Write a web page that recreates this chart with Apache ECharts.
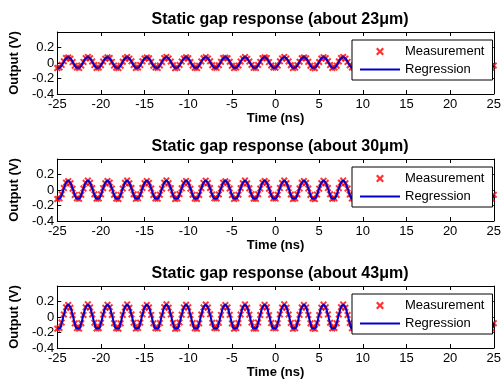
<!DOCTYPE html>
<html>
<head>
<meta charset="utf-8">
<script src="https://cdn.jsdelivr.net/npm/echarts@6/dist/echarts.min.js"></script>
<style>
  html, body { margin: 0; padding: 0; background: #fff; }
  #chart { width: 504px; height: 384px; }
</style>
</head>
<body>
<div id="chart"></div>
<script>
// sample times (ns)
const tiempos = [
  -25,-24.75,-24.5,-24.25,-24,-23.75,-23.5,-23.25,
  -23,-22.75,-22.5,-22.25,-22,-21.75,-21.5,-21.25,
  -21,-20.75,-20.5,-20.25,-20,-19.75,-19.5,-19.25,
  -19,-18.75,-18.5,-18.25,-18,-17.75,-17.5,-17.25,
  -17,-16.75,-16.5,-16.25,-16,-15.75,-15.5,-15.25,
  -15,-14.75,-14.5,-14.25,-14,-13.75,-13.5,-13.25,
  -13,-12.75,-12.5,-12.25,-12,-11.75,-11.5,-11.25,
  -11,-10.75,-10.5,-10.25,-10,-9.75,-9.5,-9.25,
  -9,-8.75,-8.5,-8.25,-8,-7.75,-7.5,-7.25,
  -7,-6.75,-6.5,-6.25,-6,-5.75,-5.5,-5.25,
  -5,-4.75,-4.5,-4.25,-4,-3.75,-3.5,-3.25,
  -3,-2.75,-2.5,-2.25,-2,-1.75,-1.5,-1.25,
  -1,-0.75,-0.5,-0.25,0,0.25,0.5,0.75,
  1,1.25,1.5,1.75,2,2.25,2.5,2.75,
  3,3.25,3.5,3.75,4,4.25,4.5,4.75,
  5,5.25,5.5,5.75,6,6.25,6.5,6.75,
  7,7.25,7.5,7.75,8,8.25,8.5,8.75,
  9,9.25,9.5,9.75,10,10.25,10.5,10.75,
  11,11.25,11.5,11.75,12,12.25,12.5,12.75,
  13,13.25,13.5,13.75,14,14.25,14.5,14.75,
  15,15.25,15.5,15.75,16,16.25,16.5,16.75,
  17,17.25,17.5,17.75,18,18.25,18.5,18.75,
  19,19.25,19.5,19.75,20,20.25,20.5,20.75,
  21,21.25,21.5,21.75,22,22.25,22.5,22.75,
  23,23.25,23.5,23.75,24,24.25,24.5,24.75,
  25
];

// panel 1 (about 23um)
const medida23 = [
  -0.066,-0.058,-0.024,0.021,0.063,0.071,0.055,0.012,-0.035,
  -0.058,-0.064,-0.033,0.014,0.062,0.079,0.061,0.020,-0.027,
  -0.063,-0.059,-0.028,0.019,0.055,0.073,0.063,0.014,-0.033,
  -0.060,-0.066,-0.035,0.016,0.061,0.077,0.056,0.021,-0.026,
  -0.064,-0.057,-0.027,0.022,0.057,0.072,0.060,0.015,-0.034,
  -0.059,-0.063,-0.031,0.013,0.064,0.078,0.057,0.019,-0.029,
  -0.067,-0.060,-0.025,0.018,0.058,0.074,0.062,0.013,-0.032,
  -0.061,-0.065,-0.034,0.020,0.060,0.076,0.058,0.022,-0.028,
  -0.057,-0.062,-0.029,0.015,0.063,0.070,0.061,0.016,-0.036,
  -0.065,-0.058,-0.032,0.019,0.056,0.077,0.055,0.018,-0.025,
  -0.062,-0.064,-0.026,0.014,0.062,0.073,0.063,0.012,-0.031,
  -0.058,-0.061,-0.033,0.021,0.059,0.079,0.057,0.020,-0.029,
  -0.066,-0.059,-0.028,0.016,0.061,0.072,0.060,0.015,-0.034,
  -0.060,-0.067,-0.030,0.013,0.057,0.075,0.062,0.021,-0.027,
  -0.063,-0.057,-0.035,0.020,0.064,0.078,0.056,0.014,-0.030,
  -0.059,-0.062,-0.027,0.017,0.058,0.071,0.059,0.019,-0.033,
  -0.064,-0.060,-0.031,0.022,0.060,0.076,0.061,0.013,-0.028,
  -0.061,-0.065,-0.029,0.015,0.063,0.074,0.058,0.018,-0.032,
  -0.057,-0.059,-0.034,0.018,0.056,0.077,0.062,0.016,-0.026,
  -0.065,-0.063,-0.026,0.014,0.062,0.073,0.055,0.020,-0.035,
  -0.062,-0.058,-0.032,0.021,0.059,0.079,0.060,0.012,-0.029,
  -0.060,-0.066,-0.028,0.016,0.061,0.072,0.063,0.019,-0.031,
  -0.063,-0.059,-0.033
];
const ajuste23 = [
  -0.061,-0.061,-0.030,0.017,0.059,0.075,0.059,0.017,-0.030,
  -0.061,-0.061,-0.030,0.017,0.059,0.075,0.059,0.017,-0.030,
  -0.061,-0.061,-0.030,0.017,0.059,0.075,0.059,0.017,-0.030,
  -0.061,-0.061,-0.030,0.017,0.059,0.075,0.059,0.017,-0.030,
  -0.061,-0.061,-0.030,0.017,0.059,0.075,0.059,0.017,-0.030,
  -0.061,-0.061,-0.030,0.017,0.059,0.075,0.059,0.017,-0.030,
  -0.061,-0.061,-0.030,0.017,0.059,0.075,0.059,0.017,-0.030,
  -0.061,-0.061,-0.030,0.017,0.059,0.075,0.059,0.017,-0.030,
  -0.061,-0.061,-0.030,0.017,0.059,0.075,0.059,0.017,-0.030,
  -0.061,-0.061,-0.030,0.017,0.059,0.075,0.059,0.017,-0.030,
  -0.061,-0.061,-0.030,0.017,0.059,0.075,0.059,0.017,-0.030,
  -0.061,-0.061,-0.030,0.017,0.059,0.075,0.059,0.017,-0.030,
  -0.061,-0.061,-0.030,0.017,0.059,0.075,0.059,0.017,-0.030,
  -0.061,-0.061,-0.030,0.017,0.059,0.075,0.059,0.017,-0.030,
  -0.061,-0.061,-0.030,0.017,0.059,0.075,0.059,0.017,-0.030,
  -0.061,-0.061,-0.030,0.017,0.059,0.075,0.059,0.017,-0.030,
  -0.061,-0.061,-0.030,0.017,0.059,0.075,0.059,0.017,-0.030,
  -0.061,-0.061,-0.030,0.017,0.059,0.075,0.059,0.017,-0.030,
  -0.061,-0.061,-0.030,0.017,0.059,0.075,0.059,0.017,-0.030,
  -0.061,-0.061,-0.030,0.017,0.059,0.075,0.059,0.017,-0.030,
  -0.061,-0.061,-0.030,0.017,0.059,0.075,0.059,0.017,-0.030,
  -0.061,-0.061,-0.030,0.017,0.059,0.075,0.059,0.017,-0.030,
  -0.061,-0.061,-0.030
];

// panel 2 (about 30um)
const medida30 = [
  -0.116,-0.107,-0.054,0.025,0.094,0.114,0.086,0.016,-0.064,
  -0.108,-0.114,-0.062,0.018,0.093,0.122,0.092,0.024,-0.056,
  -0.113,-0.109,-0.056,0.023,0.086,0.116,0.094,0.018,-0.062,
  -0.110,-0.116,-0.064,0.019,0.092,0.121,0.087,0.025,-0.055,
  -0.114,-0.106,-0.055,0.026,0.088,0.115,0.091,0.019,-0.063,
  -0.109,-0.112,-0.060,0.017,0.095,0.123,0.088,0.023,-0.058,
  -0.117,-0.110,-0.053,0.022,0.089,0.117,0.093,0.017,-0.061,
  -0.111,-0.115,-0.063,0.024,0.091,0.120,0.089,0.026,-0.057,
  -0.107,-0.111,-0.057,0.019,0.094,0.113,0.092,0.020,-0.065,
  -0.115,-0.108,-0.061,0.023,0.087,0.121,0.086,0.022,-0.054,
  -0.112,-0.114,-0.054,0.018,0.093,0.116,0.094,0.016,-0.060,
  -0.108,-0.110,-0.062,0.025,0.090,0.122,0.088,0.024,-0.058,
  -0.116,-0.109,-0.056,0.020,0.092,0.115,0.091,0.019,-0.063,
  -0.110,-0.117,-0.059,0.017,0.088,0.119,0.093,0.025,-0.056,
  -0.113,-0.107,-0.064,0.024,0.095,0.121,0.087,0.018,-0.059,
  -0.109,-0.112,-0.055,0.021,0.089,0.114,0.090,0.023,-0.062,
  -0.114,-0.110,-0.060,0.026,0.091,0.120,0.092,0.017,-0.057,
  -0.111,-0.115,-0.057,0.019,0.094,0.117,0.089,0.022,-0.061,
  -0.107,-0.109,-0.063,0.022,0.087,0.121,0.093,0.020,-0.055,
  -0.115,-0.113,-0.054,0.018,0.093,0.116,0.086,0.024,-0.064,
  -0.112,-0.108,-0.061,0.025,0.090,0.123,0.091,0.016,-0.058,
  -0.110,-0.116,-0.056,0.020,0.092,0.115,0.094,0.023,-0.060,
  -0.113,-0.109,-0.062
];
const ajuste30 = [
  -0.111,-0.111,-0.059,0.021,0.090,0.118,0.090,0.021,-0.059,
  -0.111,-0.111,-0.059,0.021,0.090,0.118,0.090,0.021,-0.059,
  -0.111,-0.111,-0.059,0.021,0.090,0.118,0.090,0.021,-0.059,
  -0.111,-0.111,-0.059,0.021,0.090,0.118,0.090,0.021,-0.059,
  -0.111,-0.111,-0.059,0.021,0.090,0.118,0.090,0.021,-0.059,
  -0.111,-0.111,-0.059,0.021,0.090,0.118,0.090,0.021,-0.059,
  -0.111,-0.111,-0.059,0.021,0.090,0.118,0.090,0.021,-0.059,
  -0.111,-0.111,-0.059,0.021,0.090,0.118,0.090,0.021,-0.059,
  -0.111,-0.111,-0.059,0.021,0.090,0.118,0.090,0.021,-0.059,
  -0.111,-0.111,-0.059,0.021,0.090,0.118,0.090,0.021,-0.059,
  -0.111,-0.111,-0.059,0.021,0.090,0.118,0.090,0.021,-0.059,
  -0.111,-0.111,-0.059,0.021,0.090,0.118,0.090,0.021,-0.059,
  -0.111,-0.111,-0.059,0.021,0.090,0.118,0.090,0.021,-0.059,
  -0.111,-0.111,-0.059,0.021,0.090,0.118,0.090,0.021,-0.059,
  -0.111,-0.111,-0.059,0.021,0.090,0.118,0.090,0.021,-0.059,
  -0.111,-0.111,-0.059,0.021,0.090,0.118,0.090,0.021,-0.059,
  -0.111,-0.111,-0.059,0.021,0.090,0.118,0.090,0.021,-0.059,
  -0.111,-0.111,-0.059,0.021,0.090,0.118,0.090,0.021,-0.059,
  -0.111,-0.111,-0.059,0.021,0.090,0.118,0.090,0.021,-0.059,
  -0.111,-0.111,-0.059,0.021,0.090,0.118,0.090,0.021,-0.059,
  -0.111,-0.111,-0.059,0.021,0.090,0.118,0.090,0.021,-0.059,
  -0.111,-0.111,-0.059,0.021,0.090,0.118,0.090,0.021,-0.059,
  -0.111,-0.111,-0.059
];

// panel 3 (about 43um)
const medida43 = [
  -0.151,-0.142,-0.072,0.033,0.126,0.155,0.118,0.024,-0.082,
  -0.143,-0.149,-0.080,0.026,0.125,0.163,0.124,0.032,-0.074,
  -0.148,-0.144,-0.074,0.031,0.118,0.157,0.126,0.026,-0.080,
  -0.145,-0.151,-0.082,0.027,0.124,0.162,0.119,0.033,-0.073,
  -0.149,-0.141,-0.073,0.034,0.120,0.156,0.123,0.027,-0.081,
  -0.144,-0.147,-0.078,0.025,0.127,0.164,0.120,0.031,-0.076,
  -0.152,-0.145,-0.071,0.030,0.121,0.158,0.125,0.025,-0.079,
  -0.146,-0.150,-0.081,0.032,0.123,0.161,0.121,0.034,-0.075,
  -0.142,-0.146,-0.075,0.027,0.126,0.154,0.124,0.028,-0.083,
  -0.150,-0.143,-0.079,0.031,0.119,0.162,0.118,0.030,-0.072,
  -0.147,-0.149,-0.072,0.026,0.125,0.157,0.126,0.024,-0.078,
  -0.143,-0.145,-0.080,0.033,0.122,0.163,0.120,0.032,-0.076,
  -0.151,-0.144,-0.074,0.028,0.124,0.156,0.123,0.027,-0.081,
  -0.145,-0.152,-0.077,0.025,0.120,0.160,0.125,0.033,-0.074,
  -0.148,-0.142,-0.082,0.032,0.127,0.162,0.119,0.026,-0.077,
  -0.144,-0.147,-0.073,0.029,0.121,0.155,0.122,0.031,-0.080,
  -0.149,-0.145,-0.078,0.034,0.123,0.161,0.124,0.025,-0.075,
  -0.146,-0.150,-0.075,0.027,0.126,0.158,0.121,0.030,-0.079,
  -0.142,-0.144,-0.081,0.030,0.119,0.162,0.125,0.028,-0.073,
  -0.150,-0.148,-0.072,0.026,0.125,0.157,0.118,0.032,-0.082,
  -0.147,-0.143,-0.079,0.033,0.122,0.164,0.123,0.024,-0.076,
  -0.145,-0.151,-0.074,0.028,0.124,0.156,0.126,0.031,-0.078,
  -0.148,-0.144,-0.080
];
const ajuste43 = [
  -0.146,-0.146,-0.077,0.029,0.122,0.159,0.122,0.029,-0.077,
  -0.146,-0.146,-0.077,0.029,0.122,0.159,0.122,0.029,-0.077,
  -0.146,-0.146,-0.077,0.029,0.122,0.159,0.122,0.029,-0.077,
  -0.146,-0.146,-0.077,0.029,0.122,0.159,0.122,0.029,-0.077,
  -0.146,-0.146,-0.077,0.029,0.122,0.159,0.122,0.029,-0.077,
  -0.146,-0.146,-0.077,0.029,0.122,0.159,0.122,0.029,-0.077,
  -0.146,-0.146,-0.077,0.029,0.122,0.159,0.122,0.029,-0.077,
  -0.146,-0.146,-0.077,0.029,0.122,0.159,0.122,0.029,-0.077,
  -0.146,-0.146,-0.077,0.029,0.122,0.159,0.122,0.029,-0.077,
  -0.146,-0.146,-0.077,0.029,0.122,0.159,0.122,0.029,-0.077,
  -0.146,-0.146,-0.077,0.029,0.122,0.159,0.122,0.029,-0.077,
  -0.146,-0.146,-0.077,0.029,0.122,0.159,0.122,0.029,-0.077,
  -0.146,-0.146,-0.077,0.029,0.122,0.159,0.122,0.029,-0.077,
  -0.146,-0.146,-0.077,0.029,0.122,0.159,0.122,0.029,-0.077,
  -0.146,-0.146,-0.077,0.029,0.122,0.159,0.122,0.029,-0.077,
  -0.146,-0.146,-0.077,0.029,0.122,0.159,0.122,0.029,-0.077,
  -0.146,-0.146,-0.077,0.029,0.122,0.159,0.122,0.029,-0.077,
  -0.146,-0.146,-0.077,0.029,0.122,0.159,0.122,0.029,-0.077,
  -0.146,-0.146,-0.077,0.029,0.122,0.159,0.122,0.029,-0.077,
  -0.146,-0.146,-0.077,0.029,0.122,0.159,0.122,0.029,-0.077,
  -0.146,-0.146,-0.077,0.029,0.122,0.159,0.122,0.029,-0.077,
  -0.146,-0.146,-0.077,0.029,0.122,0.159,0.122,0.029,-0.077,
  -0.146,-0.146,-0.077
];

const titulos = [
  'Static gap response (about 23\u03bcm)',
  'Static gap response (about 30\u03bcm)',
  'Static gap response (about 43\u03bcm)'
];
const medidas = [medida23, medida30, medida43];
const ajustes = [ajuste23, ajuste30, ajuste43];

const fuente = "'Liberation Sans', Arial, sans-serif";
const rojo = '#ff0000';
const azul = '#0000cc';
const cruz = 'path://M0,2L2,0L5,3L8,0L10,2L7,5L10,8L8,10L5,7L2,10L0,8L3,5Z';
const raya = 'path://M0,0L40,0L40,2L0,2Z';

// layout
const topes = [32, 159, 286];
const altoPanel = 62;

const zip = (xs, ys) => xs.map((x, i) => [x, ys[i]]);

const option = {
  animation: false,
  backgroundColor: '#fff',
  title: [],
  legend: [],
  grid: [],
  xAxis: [],
  yAxis: [],
  series: []
};

topes.forEach((top, i) => {
  option.title.push({
    text: titulos[i],
    left: 275,
    top: top - 25,
    textAlign: 'center',
    textStyle: { fontFamily: fuente, fontSize: 16, fontWeight: 'bold', color: '#000' }
  });

  option.grid.push({ left: 53, width: 445, top: top, height: altoPanel });

  const ejeLinea = { show: true, onZero: false, lineStyle: { color: '#000', width: 1 } };
  const marcas = { show: true, inside: true, length: 4, lineStyle: { color: '#000' } };

  // bottom x axis
  option.xAxis.push({
    type: 'value', gridIndex: i, position: 'bottom',
    min: -25, max: 25, interval: 5,
    axisLine: ejeLinea, axisTick: marcas,
    axisLabel: { fontFamily: fuente, fontSize: 13, color: '#000', margin: 4 },
    splitLine: { show: false },
    name: 'Time (ns)', nameLocation: 'middle', nameGap: 18,
    nameTextStyle: { fontFamily: fuente, fontSize: 13, fontWeight: 'bold', color: '#000' }
  });
  // top x axis (mirrored ticks)
  option.xAxis.push({
    type: 'value', gridIndex: i, position: 'top',
    min: -25, max: 25, interval: 5,
    axisLine: ejeLinea, axisTick: marcas,
    axisLabel: { show: false }, splitLine: { show: false }
  });
  // left y axis
  option.yAxis.push({
    type: 'value', gridIndex: i, position: 'left',
    min: -0.4, max: 0.4, interval: 0.2,
    axisLine: ejeLinea, axisTick: marcas,
    axisLabel: { fontFamily: fuente, fontSize: 13, color: '#000', margin: 3, showMaxLabel: false },
    splitLine: { show: false },
    name: 'Output (V)', nameLocation: 'middle', nameGap: 33,
    nameTextStyle: { fontFamily: fuente, fontSize: 13, fontWeight: 'bold', color: '#000' }
  });
  // right y axis (mirrored ticks)
  option.yAxis.push({
    type: 'value', gridIndex: i, position: 'right',
    min: -0.4, max: 0.4, interval: 0.2,
    axisLine: ejeLinea, axisTick: marcas,
    axisLabel: { show: false }, splitLine: { show: false }
  });

  option.series.push({
    name: 'Measurement',
    type: 'scatter',
    xAxisIndex: 2 * i, yAxisIndex: 2 * i,
    symbol: cruz, symbolSize: 7,
    itemStyle: { color: rojo },
    z: 2,
    data: zip(tiempos, medidas[i])
  });
  option.series.push({
    name: 'Regression',
    type: 'line',
    xAxisIndex: 2 * i, yAxisIndex: 2 * i,
    showSymbol: false, symbol: 'none',
    smooth: true,
    lineStyle: { color: azul, width: 2 },
    itemStyle: { color: azul },
    z: 3,
    data: zip(tiempos, ajustes[i])
  });

  option.legend.push({
    orient: 'vertical',
    left: 352, top: top + 8,
    width: 140,
    padding: [5, 8, 4, 8],
    itemGap: 5,
    itemWidth: 40, itemHeight: 8,
    backgroundColor: '#fff',
    borderColor: '#000', borderWidth: 1,
    selectedMode: false,
    textStyle: { fontFamily: fuente, fontSize: 13, color: '#000' },
    data: [
      { name: 'Measurement', icon: cruz },
      { name: 'Regression', icon: raya }
    ]
  });
});

const grafico = echarts.init(document.getElementById('chart'));
grafico.setOption(option);
</script>
</body>
</html>
